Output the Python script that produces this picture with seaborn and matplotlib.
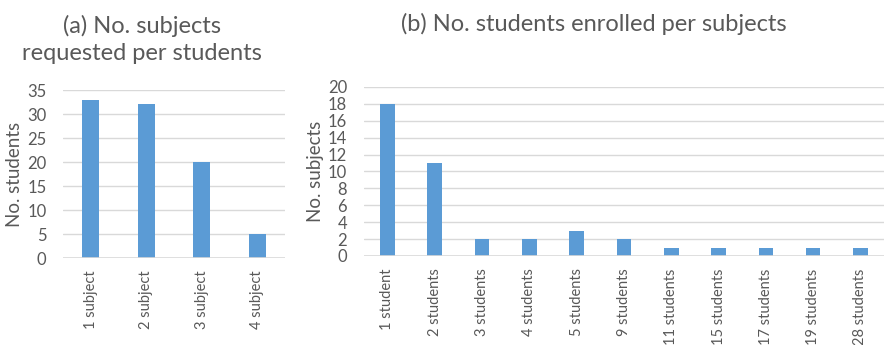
import matplotlib
matplotlib.use("Agg")
import matplotlib.pyplot as plt
import seaborn as sns
import pandas as pd

# Panel (a): number of subjects each student requested
subjects_requested = ["1 subject", "2 subject", "3 subject", "4 subject"]
students_count = [33, 32, 20, 5]

# Panel (b): number of students enrolled per subject
students_enrolled = ["1 student", "2 students", "3 students", "4 students", "5 students",
                     "9 students", "11 students", "15 students", "17 students",
                     "19 students", "28 students"]
subjects_count = [18, 11, 2, 2, 3, 2, 1, 1, 1, 1, 1]

sns.set_theme(style="white")
plt.rcParams["font.family"] = ["Lato", "DejaVu Sans"]

BAR = "#5B9BD5"
GRID = "#D9D9D9"
TEXT = "#595959"

fig = plt.figure(figsize=(8.85, 3.45), dpi=100)
ax_a = fig.add_axes([0.0712, 0.252, 0.251, 0.487])
ax_b = fig.add_axes([0.411, 0.258, 0.588, 0.490])

df_a = pd.DataFrame({"cat": subjects_requested, "val": students_count})
df_b = pd.DataFrame({"cat": students_enrolled, "val": subjects_count})

sns.barplot(data=df_a, x="cat", y="val", color=BAR, width=0.31, saturation=1,
            linewidth=0, ax=ax_a, zorder=3)
sns.barplot(data=df_b, x="cat", y="val", color=BAR, width=0.31, saturation=1,
            linewidth=0, ax=ax_b, zorder=3)


def style(ax, ymax, step, ylabel):
    ax.set_ylim(0, ymax)
    ax.set_yticks(range(0, ymax + 1, step))
    ax.set_xlim(-0.5, len(ax.get_xticks()) - 0.5)
    for y in range(step, ymax + 1, step):
        ax.axhline(y, color=GRID, lw=1, zorder=1)
    ax.axhline(0, color=GRID, lw=1.2, zorder=4)
    for s in ax.spines.values():
        s.set_visible(False)
    ax.set_xlabel("")
    ax.set_ylabel(ylabel, color=TEXT, fontsize=13.5, labelpad=3)
    ax.tick_params(axis="x", labelrotation=90, labelsize=10.5, colors=TEXT, length=0, pad=9)
    ax.tick_params(axis="y", labelsize=12, colors=TEXT, length=0, pad=12)


style(ax_a, 35, 5, "No. students")
style(ax_b, 20, 2, "No. subjects")

fig.text(0.160, 0.887, "(a) No. subjects\nrequested per students", ha="center", va="center",
         fontsize=17, color=TEXT, linespacing=1.35)
fig.text(0.671, 0.932, "(b) No. students enrolled per subjects", ha="center", va="center",
         fontsize=17, color=TEXT)

fig.savefig("out.png", dpi=100, facecolor="white")
